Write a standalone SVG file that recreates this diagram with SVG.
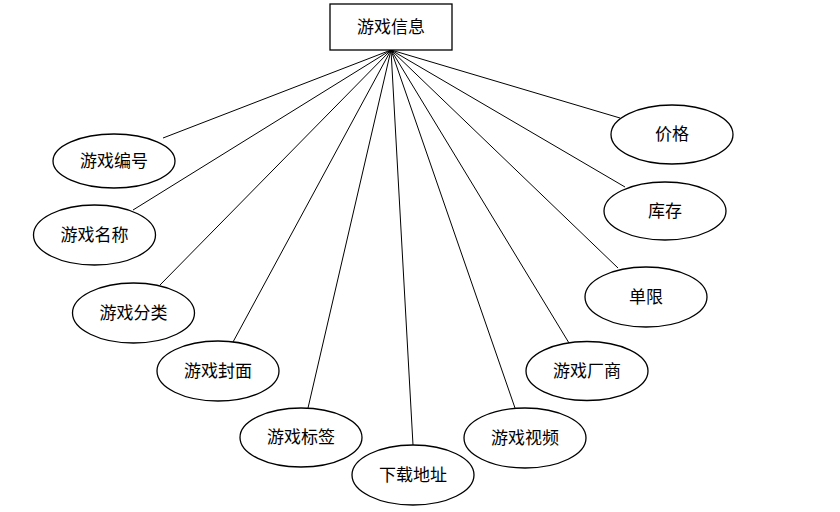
<svg xmlns="http://www.w3.org/2000/svg" width="840" height="512" viewBox="0 0 840 512">
<style>
.n{fill:#fff;stroke:#000;stroke-width:1.3}
.t{font-family:"Noto Sans CJK SC","Liberation Serif",serif;font-size:17px;fill:#000;text-anchor:middle}
.c line{stroke:#000;stroke-width:1}
</style>
<rect width="840" height="512" fill="#fff"/>
<g class="c" id="connectors">
<line x1="391" y1="50" x2="163" y2="138"/>
<line x1="391" y1="50" x2="133" y2="210"/>
<line x1="391" y1="50" x2="160" y2="285"/>
<line x1="391" y1="50" x2="233" y2="342"/>
<line x1="391" y1="50" x2="308" y2="408"/>
<line x1="391" y1="50" x2="413" y2="445"/>
<line x1="391" y1="50" x2="515" y2="408"/>
<line x1="391" y1="50" x2="569" y2="343"/>
<line x1="391" y1="50" x2="618" y2="268"/>
<line x1="391" y1="50" x2="625" y2="187"/>
<line x1="391" y1="50" x2="620" y2="118"/>
</g>
<g id="entity"><rect class="n" x="330" y="4" width="122" height="46"/><text class="t" x="391" y="33">游戏信息</text></g>
<g id="a1"><ellipse class="n" cx="114" cy="161" rx="61" ry="27"/><text class="t" x="114" y="167">游戏编号</text></g>
<g id="a2"><ellipse class="n" cx="94.5" cy="235" rx="61" ry="30"/><text class="t" x="94.5" y="241">游戏名称</text></g>
<g id="a3"><ellipse class="n" cx="133.5" cy="313" rx="61" ry="30"/><text class="t" x="133.5" y="319">游戏分类</text></g>
<g id="a4"><ellipse class="n" cx="218" cy="371" rx="61" ry="30"/><text class="t" x="218" y="377">游戏封面</text></g>
<g id="a5"><ellipse class="n" cx="301" cy="437.5" rx="61" ry="29.5"/><text class="t" x="301" y="443">游戏标签</text></g>
<g id="a6"><ellipse class="n" cx="413" cy="475" rx="61" ry="30"/><text class="t" x="413" y="481">下载地址</text></g>
<g id="a7"><ellipse class="n" cx="525" cy="438" rx="61" ry="30"/><text class="t" x="525" y="444">游戏视频</text></g>
<g id="a8"><ellipse class="n" cx="587" cy="371" rx="61" ry="29.5"/><text class="t" x="587" y="377">游戏厂商</text></g>
<g id="a9"><ellipse class="n" cx="646" cy="297" rx="61" ry="30"/><text class="t" x="646" y="303">单限</text></g>
<g id="a10"><ellipse class="n" cx="665" cy="211" rx="61" ry="29"/><text class="t" x="665" y="217">库存</text></g>
<g id="a11"><ellipse class="n" cx="672" cy="134.5" rx="61" ry="29.5"/><text class="t" x="672" y="140">价格</text></g>
</svg>
